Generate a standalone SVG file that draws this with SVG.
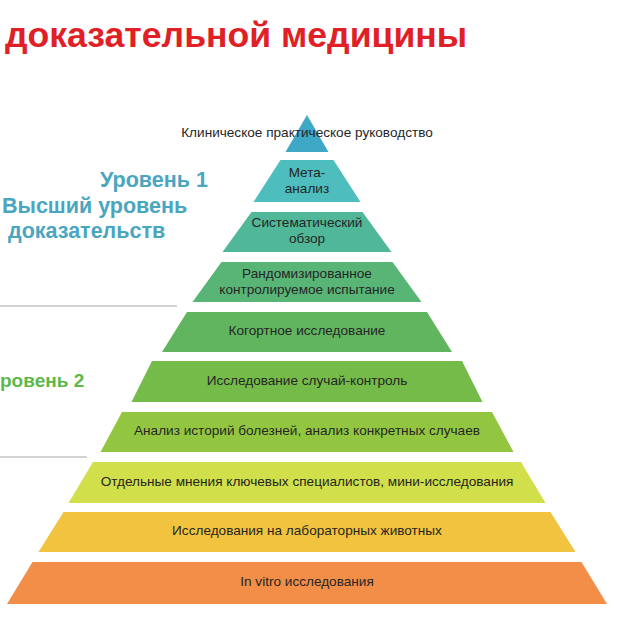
<svg xmlns="http://www.w3.org/2000/svg" width="640" height="640" viewBox="0 0 640 640">
<style>
.t{font-family:"Liberation Sans",Arial,sans-serif;font-size:13.6px;fill:#262626;text-anchor:middle}
.lv{font-family:"Liberation Sans",Arial,sans-serif;font-size:21.5px;font-weight:bold}
.sep{stroke:#a6a6a6;stroke-width:1.2}
</style>
<rect width="640" height="640" fill="#fff"/>
<text x="5" y="47" style="font-family:'Liberation Sans',Arial,sans-serif;font-size:35.6px;font-weight:bold;fill:#e01f26">доказательной медицины</text>
<g id="level1-label" class="lv" fill="#4aa6bf">
<text x="100" y="187">Уровень 1</text>
<text x="2" y="213">Высший уровень</text>
<text x="8" y="238">доказательств</text>
</g>
<g id="level2-label" class="lv" fill="#5db84a">
<text x="0" y="387" style="font-size:19px">ровень 2</text>
</g>
<g id="separators">
<line class="sep" x1="0" y1="306" x2="177" y2="306"/>
<line class="sep" x1="0" y1="457" x2="87" y2="457"/>
</g>
<g id="n0"><polygon points="307,115 328.5,152 285.5,152" fill="#3fa8c6"/><text class="t" x="307" y="137">Клиническое практическое руководство</text></g>
<g id="n1"><polygon points="280.5,160 333.5,160 360.5,202 253.5,202" fill="#4dbdbd"/><text class="t" x="307" y="177">Мета-</text><text class="t" x="307" y="193">анализ</text></g>
<g id="n2"><polygon points="251.5,212 362.5,212 391.5,252 222.5,252" fill="#50b799"/><text class="t" x="307" y="227">Систематический</text><text class="t" x="307" y="243">обзор</text></g>
<g id="n3"><polygon points="221.5,262 392.5,262 421.5,302 192.5,302" fill="#58b576"/><text class="t" x="307" y="278">Рандомизированное</text><text class="t" x="307" y="294">контролируемое испытание</text></g>
<g id="n4"><polygon points="187,312 427,312 452,352 162,352" fill="#62b55f"/><text class="t" x="307" y="335">Когортное исследование</text></g>
<g id="n5"><polygon points="152,361 462,361 482.5,402 131.5,402" fill="#74bb49"/><text class="t" x="307" y="385">Исследование случай-контроль</text></g>
<g id="n6"><polygon points="122,412 492,412 513.5,452 100.5,452" fill="#92c641"/><text class="t" x="307" y="435">Анализ историй болезней, анализ конкретных случаев</text></g>
<g id="n7"><polygon points="93,462 521,462 545.5,503 68.5,503" fill="#d0df4a"/><text class="t" x="307" y="486">Отдельные мнения ключевых специалистов, мини-исследования</text></g>
<g id="n8"><polygon points="63.5,512 550.5,512 575.5,552 38.5,552" fill="#f1c33f"/><text class="t" x="307" y="535">Исследования на лабораторных животных</text></g>
<g id="n9"><polygon points="32.5,562 581.5,562 607,604 7,604" fill="#f28e47"/><text class="t" x="307" y="586">In vitro исследования</text></g>
<g id="connectors"></g>
</svg>
